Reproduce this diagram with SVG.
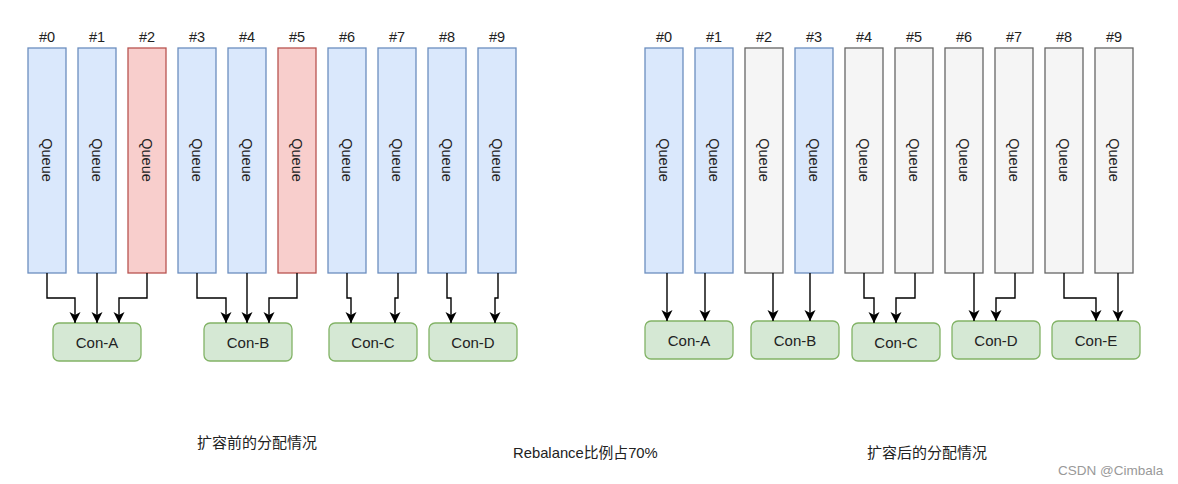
<svg xmlns="http://www.w3.org/2000/svg" width="1178" height="484" viewBox="0 0 1178 484">
<style>
.q{stroke-width:1.3}
.blue{fill:#dae8fc;stroke:#6c8ebf}
.red{fill:#f8cecc;stroke:#b85450}
.grey{fill:#f5f5f5;stroke:#666666}
.con{fill:#d5e8d4;stroke:#82b366;stroke-width:1.3}
.lbl{font-family:"Liberation Sans",Arial,sans-serif;font-size:14.5px;fill:#222;text-anchor:middle}
.qt{font-family:"Liberation Sans",Arial,sans-serif;font-size:14.5px;fill:#222;text-anchor:middle;dominant-baseline:central}
.ct{font-family:"Liberation Sans",Arial,sans-serif;font-size:15px;fill:#222;text-anchor:middle;dominant-baseline:central}
.cap{font-family:"Liberation Sans","Noto Sans CJK SC",sans-serif;font-size:15px;fill:#222}
.wm{font-family:"Liberation Sans",Arial,sans-serif;font-size:13px;fill:#999}
.edge{fill:none;stroke:#000;stroke-width:1.4}
</style>
<defs>
<marker id="arr" markerUnits="userSpaceOnUse" markerWidth="12" markerHeight="12" refX="11" refY="6" orient="auto">
<path d="M0,0.5 L11,6 L0,11.5 L3,6 z" fill="#000"/>
</marker>
</defs>

<!-- Left: before expansion -->
<g id="L-q0"><rect class="q blue" x="28" y="48" width="38" height="225"/><text class="lbl" x="47" y="42">#0</text><text class="qt" transform="translate(47,160) rotate(90)">Queue</text></g>
<g id="L-q1"><rect class="q blue" x="78" y="48" width="38" height="225"/><text class="lbl" x="97" y="42">#1</text><text class="qt" transform="translate(97,160) rotate(90)">Queue</text></g>
<g id="L-q2"><rect class="q red" x="128" y="48" width="38" height="225"/><text class="lbl" x="147" y="42">#2</text><text class="qt" transform="translate(147,160) rotate(90)">Queue</text></g>
<g id="L-q3"><rect class="q blue" x="178" y="48" width="38" height="225"/><text class="lbl" x="197" y="42">#3</text><text class="qt" transform="translate(197,160) rotate(90)">Queue</text></g>
<g id="L-q4"><rect class="q blue" x="228" y="48" width="38" height="225"/><text class="lbl" x="247" y="42">#4</text><text class="qt" transform="translate(247,160) rotate(90)">Queue</text></g>
<g id="L-q5"><rect class="q red" x="278" y="48" width="38" height="225"/><text class="lbl" x="297" y="42">#5</text><text class="qt" transform="translate(297,160) rotate(90)">Queue</text></g>
<g id="L-q6"><rect class="q blue" x="328" y="48" width="38" height="225"/><text class="lbl" x="347" y="42">#6</text><text class="qt" transform="translate(347,160) rotate(90)">Queue</text></g>
<g id="L-q7"><rect class="q blue" x="378" y="48" width="38" height="225"/><text class="lbl" x="397" y="42">#7</text><text class="qt" transform="translate(397,160) rotate(90)">Queue</text></g>
<g id="L-q8"><rect class="q blue" x="428" y="48" width="38" height="225"/><text class="lbl" x="447" y="42">#8</text><text class="qt" transform="translate(447,160) rotate(90)">Queue</text></g>
<g id="L-q9"><rect class="q blue" x="478" y="48" width="38" height="225"/><text class="lbl" x="497" y="42">#9</text><text class="qt" transform="translate(497,160) rotate(90)">Queue</text></g>

<g id="L-conA"><rect class="con" x="53" y="323" width="88" height="38" rx="6"/><text class="ct" x="97" y="342">Con-A</text></g>
<g id="L-conB"><rect class="con" x="204" y="323" width="88" height="38" rx="6"/><text class="ct" x="248" y="342">Con-B</text></g>
<g id="L-conC"><rect class="con" x="329" y="323" width="88" height="38" rx="6"/><text class="ct" x="373" y="342">Con-C</text></g>
<g id="L-conD"><rect class="con" x="429" y="323" width="88" height="38" rx="6"/><text class="ct" x="473" y="342">Con-D</text></g>

<!-- Right: after expansion -->
<g id="R-q0"><rect class="q blue" x="645" y="48" width="38" height="225"/><text class="lbl" x="664" y="42">#0</text><text class="qt" transform="translate(664,160) rotate(90)">Queue</text></g>
<g id="R-q1"><rect class="q blue" x="695" y="48" width="38" height="225"/><text class="lbl" x="714" y="42">#1</text><text class="qt" transform="translate(714,160) rotate(90)">Queue</text></g>
<g id="R-q2"><rect class="q grey" x="745" y="48" width="38" height="225"/><text class="lbl" x="764" y="42">#2</text><text class="qt" transform="translate(764,160) rotate(90)">Queue</text></g>
<g id="R-q3"><rect class="q blue" x="795" y="48" width="38" height="225"/><text class="lbl" x="814" y="42">#3</text><text class="qt" transform="translate(814,160) rotate(90)">Queue</text></g>
<g id="R-q4"><rect class="q grey" x="845" y="48" width="38" height="225"/><text class="lbl" x="864" y="42">#4</text><text class="qt" transform="translate(864,160) rotate(90)">Queue</text></g>
<g id="R-q5"><rect class="q grey" x="895" y="48" width="38" height="225"/><text class="lbl" x="914" y="42">#5</text><text class="qt" transform="translate(914,160) rotate(90)">Queue</text></g>
<g id="R-q6"><rect class="q grey" x="945" y="48" width="38" height="225"/><text class="lbl" x="964" y="42">#6</text><text class="qt" transform="translate(964,160) rotate(90)">Queue</text></g>
<g id="R-q7"><rect class="q grey" x="995" y="48" width="38" height="225"/><text class="lbl" x="1014" y="42">#7</text><text class="qt" transform="translate(1014,160) rotate(90)">Queue</text></g>
<g id="R-q8"><rect class="q grey" x="1045" y="48" width="38" height="225"/><text class="lbl" x="1064" y="42">#8</text><text class="qt" transform="translate(1064,160) rotate(90)">Queue</text></g>
<g id="R-q9"><rect class="q grey" x="1095" y="48" width="38" height="225"/><text class="lbl" x="1114" y="42">#9</text><text class="qt" transform="translate(1114,160) rotate(90)">Queue</text></g>

<g id="R-conA"><rect class="con" x="645" y="321" width="88" height="38" rx="6"/><text class="ct" x="689" y="340">Con-A</text></g>
<g id="R-conB"><rect class="con" x="751" y="321" width="88" height="38" rx="6"/><text class="ct" x="795" y="340">Con-B</text></g>
<g id="R-conC"><rect class="con" x="852" y="323" width="88" height="38" rx="6"/><text class="ct" x="896" y="342">Con-C</text></g>
<g id="R-conD"><rect class="con" x="952" y="321" width="88" height="38" rx="6"/><text class="ct" x="996" y="340">Con-D</text></g>
<g id="R-conE"><rect class="con" x="1052" y="321" width="88" height="38" rx="6"/><text class="ct" x="1096" y="340">Con-E</text></g>

<g id="connectors">
<path class="edge" marker-end="url(#arr)" d="M47,273 V298 H75 V323"/>
<path class="edge" marker-end="url(#arr)" d="M97,273 V323"/>
<path class="edge" marker-end="url(#arr)" d="M147,273 V298 H119 V323"/>
<path class="edge" marker-end="url(#arr)" d="M197,273 V298 H226 V323"/>
<path class="edge" marker-end="url(#arr)" d="M247,273 V323"/>
<path class="edge" marker-end="url(#arr)" d="M297,273 V298 H269 V323"/>
<path class="edge" marker-end="url(#arr)" d="M347,273 V298 H351 V323"/>
<path class="edge" marker-end="url(#arr)" d="M398,273 V298 H395 V323"/>
<path class="edge" marker-end="url(#arr)" d="M447,273 V298 H451 V323"/>
<path class="edge" marker-end="url(#arr)" d="M498,273 V298 H495 V323"/>

<path class="edge" marker-end="url(#arr)" d="M667,273 V321"/>
<path class="edge" marker-end="url(#arr)" d="M705,273 V321"/>
<path class="edge" marker-end="url(#arr)" d="M773,273 V321"/>
<path class="edge" marker-end="url(#arr)" d="M810,273 V321"/>
<path class="edge" marker-end="url(#arr)" d="M864,273 V298 H874 V323"/>
<path class="edge" marker-end="url(#arr)" d="M915,273 V298 H896 V323"/>
<path class="edge" marker-end="url(#arr)" d="M974,273 V321"/>
<path class="edge" marker-end="url(#arr)" d="M1015,273 V298 H996 V321"/>
<path class="edge" marker-end="url(#arr)" d="M1064,273 V298 H1096 V321"/>
<path class="edge" marker-end="url(#arr)" d="M1118,273 V321"/>
</g>

<text class="cap" x="197" y="448">扩容前的分配情况</text>
<text class="cap" x="513" y="458" style="font-size:14.8px">Rebalance比例占70%</text>
<text class="cap" x="867" y="458">扩容后的分配情况</text>
<text class="wm" x="1058" y="475" style="font-size:13.5px">CSDN @Cimbala</text>
</svg>
